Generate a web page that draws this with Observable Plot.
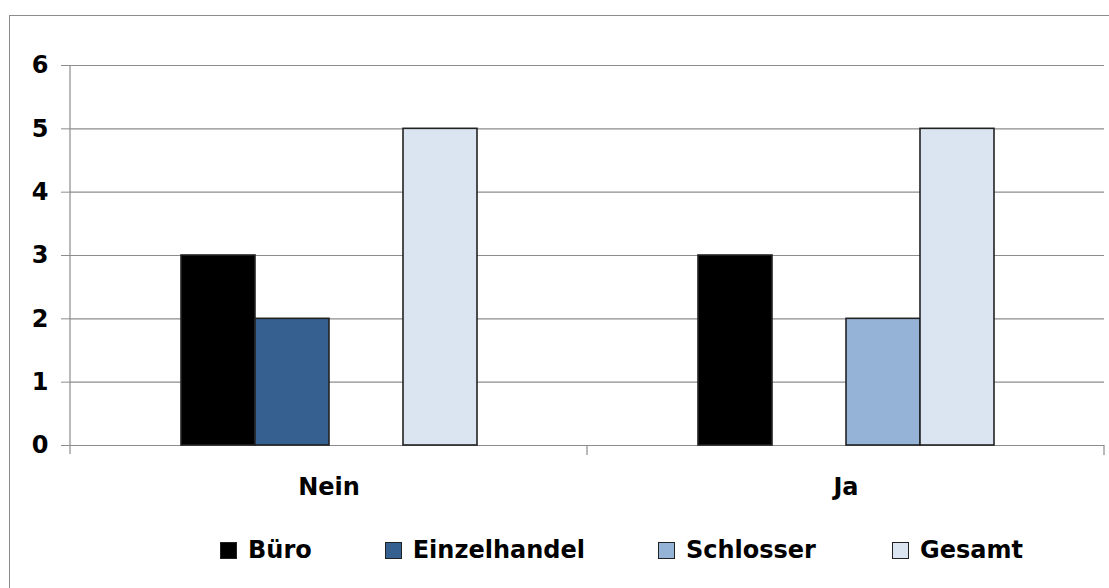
<!DOCTYPE html>
<html><head><meta charset="utf-8">
<script src="https://cdn.jsdelivr.net/npm/d3@7"></script>
<script src="https://cdn.jsdelivr.net/npm/@observablehq/plot@0.6"></script>
<style>
html,body{margin:0;padding:0;background:#fff;}
body{width:1109px;height:588px;position:relative;overflow:hidden;font-family:"DejaVu Sans",sans-serif;}
#frame{position:absolute;left:9px;top:15px;width:1200px;height:700px;border:1.5px solid #8c8c8c;box-sizing:border-box;}
#chart{position:absolute;left:0;top:0;}
#legend{position:absolute;left:220px;top:535px;display:flex;align-items:center;font-weight:bold;font-size:24px;line-height:30px;color:#000;}
#legend .item{display:flex;align-items:center;margin-right:73px;}
#legend .item:nth-child(3){margin-right:76px;}
#legend .sw{width:17px;height:17px;border:1.5px solid #222;box-sizing:border-box;margin-right:11px;}
</style></head>
<body>
<div id="frame"></div>
<div id="chart"></div>
<div id="legend"></div>
<script>
const categories = ["Nein", "Ja"];
const series = ["Büro", "Einzelhandel", "Schlosser", "Gesamt"];
const valuesNein = [3, 2, 0, 5];
const valuesJa = [3, 0, 2, 5];
const colors = ["#000000", "#36608f", "#95b3d7", "#dbe5f1"];
const yTicks = [0, 1, 2, 3, 4, 5, 6];

const data = [];
series.forEach((s, i) => {
  data.push({category: "Nein", series: s, value: valuesNein[i]});
  data.push({category: "Ja", series: s, value: valuesJa[i]});
});

const plot = Plot.plot({
  width: 1109,
  height: 520,
  marginLeft: 70,
  marginRight: 5,
  marginTop: 65,
  marginBottom: 75,
  style: {fontFamily: "'DejaVu Sans', sans-serif", background: "transparent"},
  fx: {domain: categories, paddingInner: 0, paddingOuter: 0, label: null},
  x: {domain: series, paddingInner: 0, paddingOuter: 1.47, axis: null},
  y: {domain: [0, 6], label: null},
  color: {domain: series, range: colors},
  marks: [
    Plot.ruleY(yTicks, {stroke: "#8c8c8c", strokeWidth: 1.2}),
    Plot.barY(data, {fx: "category", x: "series", y: "value", fill: "series", stroke: "#222", strokeWidth: 1.6, filter: d => d.value > 0}),
    Plot.axisY({ticks: yTicks, tickSize: 9, tickPadding: 13, tickFormat: d => d, fontSize: 24, fontWeight: "bold", fill: "#000", label: null, stroke: "#8c8c8c"}),
    Plot.axisFx({anchor: "bottom", tickSize: 0, tickPadding: 32, fontSize: 24, fontWeight: "bold", fill: "#000", label: null})
  ]
});
document.getElementById("chart").appendChild(plot);

// y-axis line and category separator ticks, positioned via Plot's own scales
const svg = d3.select(plot);
const fx = plot.scale("fx");
const y = plot.scale("y");
const y0 = y.apply(0), y6 = y.apply(6);
const xs = categories.map(c => fx.apply(c));
xs.push(fx.apply(categories[categories.length - 1]) + fx.bandwidth);
const g = svg.append("g").attr("stroke", "#8c8c8c").attr("stroke-width", 1.2);
g.append("line").attr("x1", xs[0]).attr("x2", xs[0]).attr("y1", y6).attr("y2", y0 + 9);
xs.slice(1).forEach(x => g.append("line").attr("x1", x).attr("x2", x).attr("y1", y0).attr("y2", y0 + 10));

const legend = document.getElementById("legend");
series.forEach((s, i) => {
  const it = document.createElement("div");
  it.className = "item";
  const sw = document.createElement("div");
  sw.className = "sw";
  sw.style.background = colors[i];
  const t = document.createElement("span");
  t.textContent = s;
  it.appendChild(sw); it.appendChild(t);
  legend.appendChild(it);
});
</script>
</body></html>
